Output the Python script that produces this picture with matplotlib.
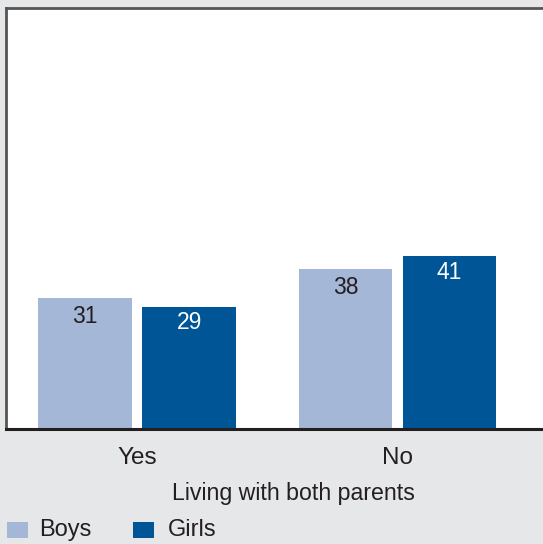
import matplotlib
matplotlib.use("Agg")
import matplotlib.pyplot as plt
from matplotlib.patches import Rectangle
import numpy as np

categories = ["Yes", "No"]
series_names = ["Boys", "Girls"]
boys = [31, 38]
girls = [29, 41]
xlabel = "Living with both parents"

c_boys = "#a4b7d6"
c_girls = "#005596"
bg = "#e6e7e9"
txt = "#231f20"

plt.rcParams['font.family'] = ['Liberation Sans', 'DejaVu Sans']

W, H = 543, 544
fig = plt.figure(figsize=(W / 100, H / 100), dpi=100, facecolor=bg)
left_px, top_px, bottom_px, right_px = 6, 8, 429, 580
ax = fig.add_axes([left_px / W, (H - bottom_px) / H,
                   (right_px - left_px) / W, (bottom_px - top_px) / H])
ax.set_facecolor("white")

unit = 260.5
x0 = -(137 - left_px) / unit
ax.set_xlim(x0, x0 + (right_px - left_px) / unit)
ax.set_ylim(0, 100)

x = np.arange(len(categories))
bw = 0.36
off = 0.2
b1 = ax.bar(x - off, boys, bw, color=c_boys, label=series_names[0])
b2 = ax.bar(x + off, girls, bw, color=c_girls, label=series_names[1])

for rect, v in zip(b1, boys):
    ax.annotate(str(v), (rect.get_x() + rect.get_width() / 2, v),
                xytext=(0, -18), textcoords="offset pixels",
                ha="center", va="center", fontsize=16.5, color=txt)
for rect, v in zip(b2, girls):
    ax.annotate(str(v), (rect.get_x() + rect.get_width() / 2, v),
                xytext=(0, -16), textcoords="offset pixels",
                ha="center", va="center", fontsize=16.5, color="white")

ax.set_xticks(x)
ax.set_xticklabels(categories, fontsize=17.5, color=txt)
ax.tick_params(axis="x", length=0, pad=13)
ax.set_yticks([])
ax.set_xlabel(xlabel, fontsize=16.7, color=txt, labelpad=9)

for s in ["left", "top"]:
    ax.spines[s].set_color("#555555")
    ax.spines[s].set_linewidth(2)
ax.spines["right"].set_visible(False)
ax.spines["bottom"].set_color(txt)
ax.spines["bottom"].set_linewidth(2.2)

# legend drawn in figure pixel positions
leg = [(series_names[0], c_boys, 7, 39), (series_names[1], c_girls, 133, 168)]
for name, col, px, tx in leg:
    fig.add_artist(Rectangle((px / W, (H - 538) / H), 21 / W, 16 / H,
                             transform=fig.transFigure, facecolor=col,
                             edgecolor="none"))
    fig.text(tx / W, (H - 530) / H, name, fontsize=17, color=txt,
             ha="left", va="center")

fig.savefig("out.png", dpi=100, facecolor=bg)
